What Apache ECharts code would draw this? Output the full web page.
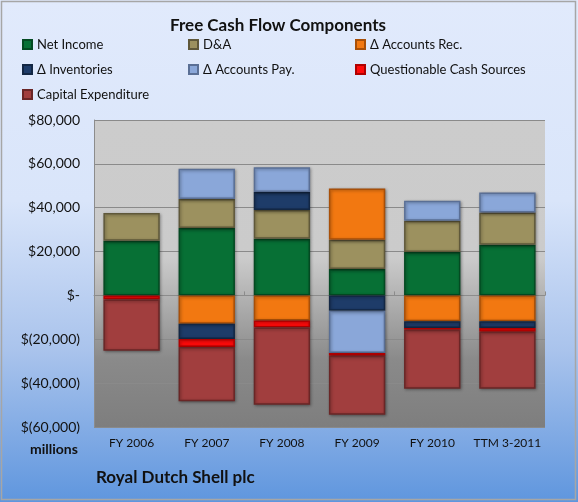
<!DOCTYPE html>
<html><head><meta charset="utf-8">
<script src="https://cdn.jsdelivr.net/npm/echarts@6/dist/echarts.min.js"></script>
<style>html,body{margin:0;padding:0;}#c{width:578px;height:502px;}</style>
</head><body><div id="c"></div>
<script>
const categories = ['FY 2006','FY 2007','FY 2008','FY 2009','FY 2010','TTM 3-2011'];
const netIncome = [24900, 30700, 25800, 12000, 19800, 23100];
const dna = [12700, 13300, 13200, 13400, 14200, 14700];
const accountsRec = [0, -12900, -11400, 23400, -11800, -11800];
const inventories = [0, -7000, 8200, -7000, -3000, -3000];
const accountsPay = [0, 13800, 11300, -19300, 9200, 9100];
const questionable = [-1800, -3600, -3200, -1200, -900, -1800];
const capex = [-23400, -24800, -35200, -26900, -26900, -26000];
const yTicks = {min: -60000, max: 80000, interval: 20000};

const fontFam = 'Lato, "Open Sans", sans-serif';
function fmt(v){
  if (v === 0) return '$-';
  const s = Math.abs(v).toLocaleString('en-US');
  return v < 0 ? '$(' + s + ')' : '$' + s;
}
const seriesDefs = [
  ['Net Income', netIncome, '#077035', '#044a22'],
  ['D&A', dna, '#9c915f', '#5f583a'],
  ['Δ Accounts Rec.', accountsRec, '#f27811', '#a84f08'],
  ['Δ Inventories', inventories, '#1e3c69', '#132744'],
  ['Δ Accounts Pay.', accountsPay, '#8aa7d9', '#5a6f95'],
  ['Questionable Cash Sources', questionable, '#ff0a0a', '#b00000'],
  ['Capital Expenditure', capex, '#a13e3e', '#6a2626']
];
const series = seriesDefs.map(d => ({
  name: d[0], type: 'bar', stack: 'fcf', xAxisIndex: 0,
  data: d[1].map(v => v === 0 ? null : v),
  barCategoryGap: '25%',
  itemStyle: {color: d[2], borderColor: d[3], borderWidth: 1.5,
    shadowColor: 'rgba(0,0,0,0.35)', shadowBlur: 3, shadowOffsetX: 1, shadowOffsetY: 1},
  emphasis: {disabled: true}
}));
const legendText = {fontFamily: fontFam, fontSize: 13, color: '#111'};
function mkLegend(left, names){
  return {orient: 'vertical', left: left, top: 38, itemWidth: 9, itemHeight: 9,
    itemGap: 12, icon: 'rect', data: names, textStyle: legendText, padding: 0,
    selectedMode: false};
}
const chart = echarts.init(document.getElementById('c'));
chart.setOption({
  animation: false,
  backgroundColor: {type: 'linear', x: 0, y: 0, x2: 0, y2: 1, colorStops: [
    {offset: 0, color: '#e1eafc'}, {offset: 0.4, color: '#d9e5fa'},
    {offset: 0.7, color: '#a9c3ec'}, {offset: 1, color: '#5f96de'}]},
  title: {text: 'Free Cash Flow Components', left: 273, top: 12, textAlign: 'center',
    textStyle: {fontFamily: fontFam, fontSize: 17, fontWeight: 'bold', color: '#111'}},
  legend: [
    mkLegend(22, ['Net Income', 'Δ Inventories', 'Capital Expenditure']),
    mkLegend(188, ['D&A', 'Δ Accounts Pay.']),
    mkLegend(355, ['Δ Accounts Rec.', 'Questionable Cash Sources'])
  ],
  graphic: [
    {type: 'rect', shape: {x: 1.5, y: 1.5, width: 574, height: 498}, silent: true,
      style: {fill: 'none', stroke: '#a6a6a6', lineWidth: 1.5}},
    {type: 'text', left: 30, top: 442, style: {text: 'millions', fontFamily: fontFam,
      fontSize: 14, fontWeight: 'bold', fill: '#111'}},
    {type: 'text', left: 96, top: 469, style: {text: 'Royal Dutch Shell plc', fontFamily: fontFam,
      fontSize: 17, fontWeight: 'bold', fill: '#111'}}
  ],
  grid: {left: 94, right: 33, top: 120, bottom: 75, show: true, borderWidth: 0,
    backgroundColor: {type: 'linear', x: 0, y: 0, x2: 0, y2: 1, colorStops: [
      {offset: 0, color: '#cccccc'}, {offset: 0.45, color: '#cbcbcb'},
      {offset: 0.78, color: '#8a8a8a'}, {offset: 1, color: '#7e7e7e'}]}},
  xAxis: [
    {type: 'category', data: categories, position: 'bottom',
      axisLine: {show: false, onZero: false}, axisTick: {show: false},
      axisLabel: {interval: 0, fontFamily: fontFam, fontSize: 12, color: '#111', margin: 10}},
    {type: 'category', data: categories, position: 'bottom',
      axisLine: {show: true, onZero: true, lineStyle: {color: '#8c8c8c'}},
      axisTick: {show: true, inside: true, length: 4, lineStyle: {color: '#8c8c8c'}},
      axisLabel: {show: false}}
  ],
  yAxis: {type: 'value', min: yTicks.min, max: yTicks.max, interval: yTicks.interval,
    axisLine: {show: true, lineStyle: {color: '#8c8c8c'}},
    axisTick: {show: false},
    splitLine: {lineStyle: {color: '#8a8a8a', width: 1}},
    axisLabel: {formatter: fmt, fontFamily: fontFam, fontSize: 14, color: '#111', margin: 14}},
  series: series
});
</script></body></html>
